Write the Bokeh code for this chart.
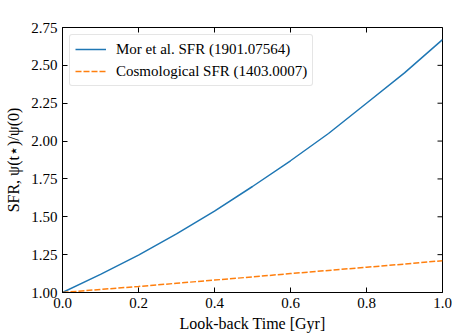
import math
from bokeh.plotting import figure
from bokeh.models import (Range1d, FixedTicker, NumeralTickFormatter,
                          Legend, LegendItem, ColumnDataSource)
from bokeh.embed import file_html
from bokeh.resources import INLINE

# Data
t_gyr = [0.0, 0.1, 0.2, 0.3, 0.4, 0.5, 0.6, 0.7, 0.8, 0.9, 1.0]
sfr_mor = [1.00, 1.12, 1.247, 1.387, 1.537, 1.70, 1.87, 2.05, 2.25, 2.45, 2.67]
sfr_cosmo = [1.00, 1.02, 1.04, 1.061, 1.082, 1.103, 1.125, 1.146, 1.167, 1.188, 1.21]
x_ticks = [0.0, 0.2, 0.4, 0.6, 0.8, 1.0]
y_ticks = [1.00, 1.25, 1.50, 1.75, 2.00, 2.25, 2.50, 2.75]
label_mor = "Mor et al. SFR (1901.07564)"
label_cosmo = "Cosmological SFR (1403.0007)"
x_label = "Look-back Time [Gyr]"
y_label = "SFR, ψ(t⋆)/ψ(0)"

X_MIN, X_MAX = 0.0, 1.0
Y_MIN, Y_MAX = 1.0, 2.75

FONT = "Liberation Serif"

p = figure(width=452, height=336, output_backend="svg", toolbar_location=None,
           x_range=Range1d(X_MIN, X_MAX), y_range=Range1d(Y_MIN, Y_MAX),
           min_border_left=62, min_border_right=10, min_border_top=27,
           min_border_bottom=44, x_axis_label=x_label, y_axis_label=y_label)
p.grid.visible = False
p.outline_line_color = "black"
p.outline_line_width = 1
p.background_fill_color = "white"
p.border_fill_color = "white"

xb = p.below[0]
yl = p.left[0]

src = ColumnDataSource(dict(t=t_gyr, mor=sfr_mor, cos=sfr_cosmo))
r1 = p.line("t", "mor", source=src, line_color="#1f77b4", line_width=1.5)
r2 = p.line("t", "cos", source=src, line_color="#ff7f0e", line_width=1.5,
            line_dash="6 2")

xb.ticker = FixedTicker(ticks=x_ticks)
yl.ticker = FixedTicker(ticks=y_ticks)
xb.formatter = NumeralTickFormatter(format="0.0")
yl.formatter = NumeralTickFormatter(format="0.00")

for ax in [xb, yl]:
    ax.major_tick_in = 5
    ax.major_tick_out = 0
    ax.minor_tick_line_color = None
    ax.axis_line_color = "black"
    ax.major_tick_line_color = "black"
    ax.major_label_text_font = FONT
    ax.major_label_text_font_size = "15px"
    ax.major_label_text_color = "black"
    ax.major_label_standoff = 5
    ax.axis_label_text_font = FONT
    ax.axis_label_text_font_style = "normal"
    ax.axis_label_text_font_size = "16px"
    ax.axis_label_text_color = "black"
xb.axis_label_standoff = 4
yl.axis_label_standoff = 6

# inward ticks on the top and right edges (half of each dash is clipped by the frame)
top_src = ColumnDataSource(dict(x=x_ticks, y=[Y_MAX] * len(x_ticks)))
right_src = ColumnDataSource(dict(x=[X_MAX] * len(y_ticks), y=y_ticks))
p.scatter("x", "y", source=top_src, marker="dash", size=10, angle=math.pi / 2,
          line_color="black", line_width=1)
p.scatter("x", "y", source=right_src, marker="dash", size=10,
          line_color="black", line_width=1)

legend = Legend(items=[LegendItem(label=label_mor, renderers=[r1]),
                       LegendItem(label=label_cosmo, renderers=[r2])],
                location="top_left")
legend.margin = 7
legend.padding = 5
legend.spacing = 4
legend.glyph_height = 18
legend.glyph_width = 31
legend.label_standoff = 10
legend.label_text_font = FONT
legend.label_text_font_size = "15px"
legend.label_text_color = "black"
legend.border_line_color = "#cccccc"
legend.background_fill_alpha = 0.8
if "border_radius" in Legend.properties():
    legend.border_radius = 3
p.add_layout(legend, "center")

open("out.html", "w").write(file_html(p, INLINE))
